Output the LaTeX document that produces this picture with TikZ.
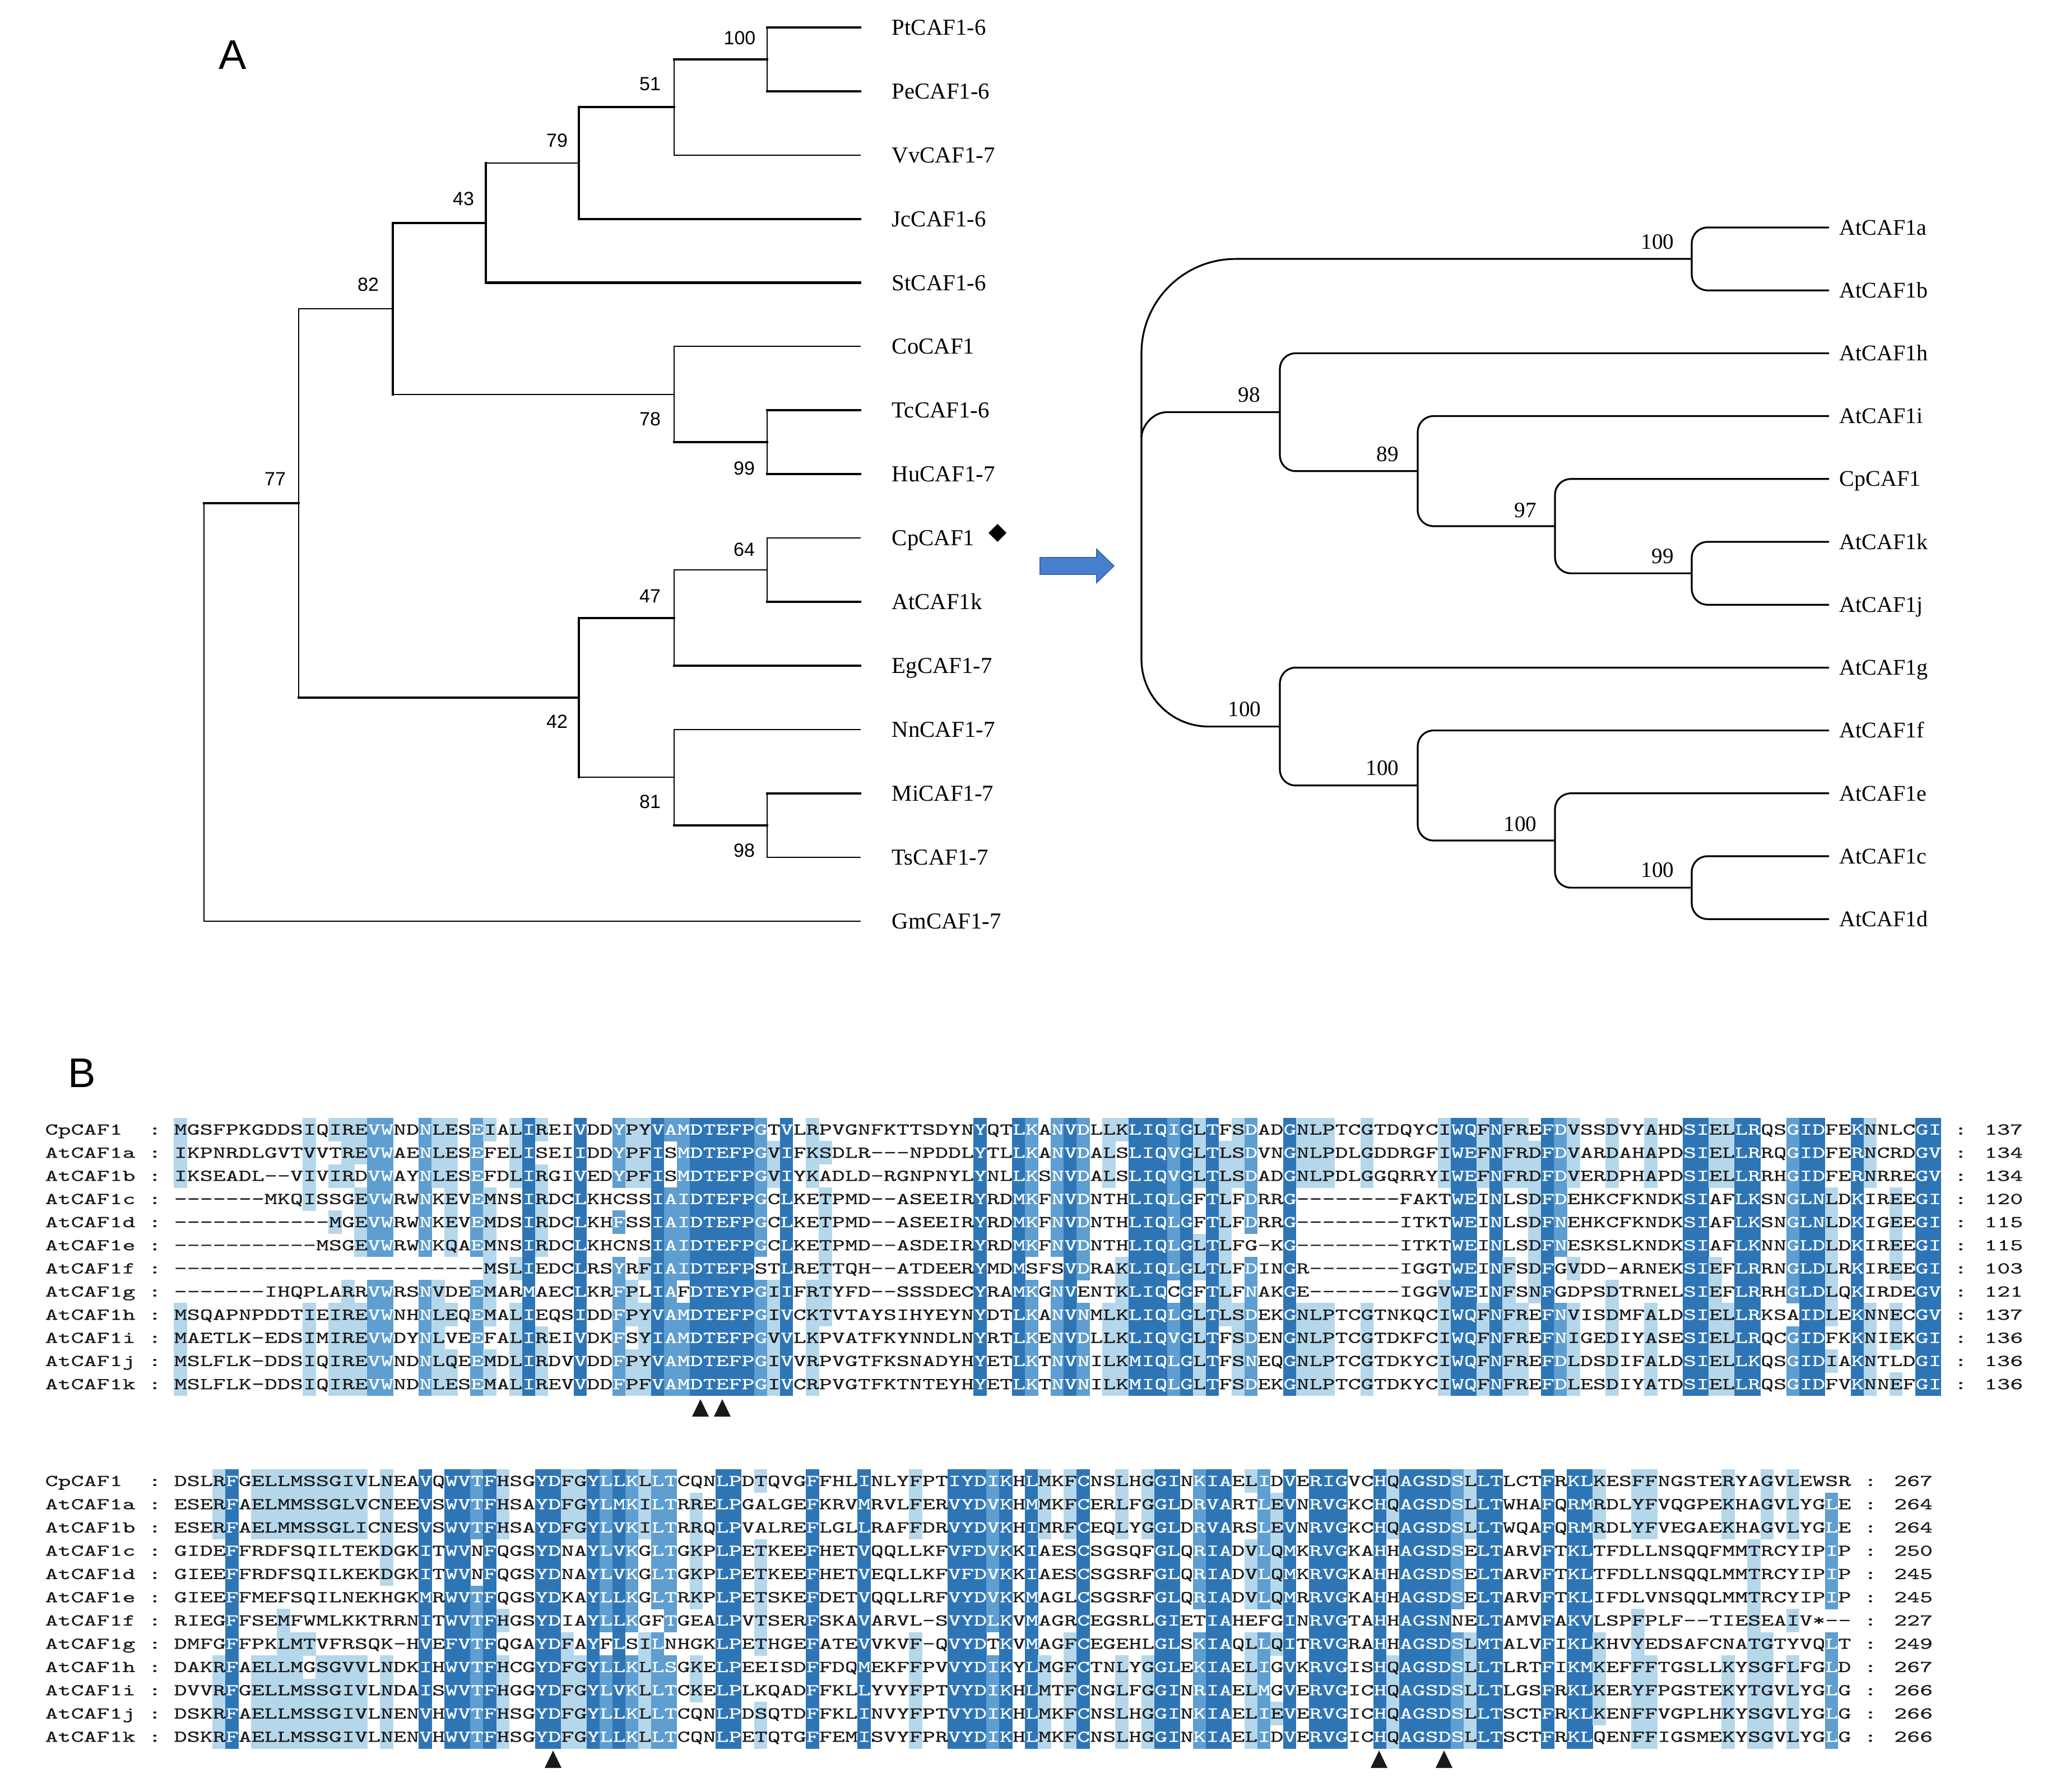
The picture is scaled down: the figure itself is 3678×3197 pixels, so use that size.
\documentclass[tikz,border=0pt]{standalone}
\usepackage{fontspec}
\setmainfont{Liberation Serif}
\newfontfamily\sansf{Liberation Sans}
\newfontfamily\seqfont[FakeStretch=1.48,FakeBold=0.6]{lmmono10-regular.otf}
\definecolor{alDark}{RGB}{46,117,182}
\definecolor{alMed}{RGB}{94,158,208}
\definecolor{alLight}{RGB}{181,215,235}
\definecolor{alText}{RGB}{25,25,25}
\definecolor{arrowblue}{RGB}{72,126,206}
\definecolor{arrowedge}{RGB}{55,100,170}
\newcommand\alfill[4]{\fill[alshade#1] (#2,#3) rectangle ++(23.5,#4);}
\newcommand\alrow[4]{\node[seqtxt, anchor=base west] (blk#1r#2) at (310,#3) {#4};}

\ExplSyntaxOn
\int_new:N \l_al_cnt_int
\int_new:N \l_al_lev_int
\tl_new:N \l_al_gi_tl
\tl_new:N \l_al_i_tl
\tl_new:N \l_al_j_tl
\int_step_inline:nn {12}
  {
    \str_new:c {l_al_r #1 _str}
    \tl_new:c {l_al_c #1 _tl}
    \tl_new:c {l_al_g #1 _tl}
    \tl_new:c {l_al_row #1 _tl}
  }
\cs_new:Npn \al_grp:n #1
  {
    \str_case:nnF {#1}
      {
        {I}{L} {L}{L} {V}{L} {M}{L}
        {F}{F} {Y}{F} {W}{F}
        {S}{S} {T}{S}
        {K}{K} {R}{K}
        {D}{D} {N}{D}
        {E}{E} {Q}{E}
        {-}{0} {*}{0}
      }
      {#1}
  }
\cs_new_protected:Npn \al_cell:nn #1#2
  {
    \hbox_to_wd:nn {5.755pt}
      {
        \hss
        \int_compare:nNnTF {#1} > {1}
          { \color{white} }
          { \color{alText} }
        #2
        \hss
      }
  }
\cs_new_protected:Npn \al_setrows:n #1
  {
    \int_zero:N \l_al_cnt_int
    \clist_map_inline:nn {#1}
      {
        \int_incr:N \l_al_cnt_int
        \str_set:cn {l_al_r \int_use:N \l_al_cnt_int _str} {##1}
      }
  }
\cs_new_protected:Npn \al_block:nnnn #1#2#3#4
  {
    \int_step_inline:nn {12} { \tl_clear:c {l_al_row ##1 _tl} }
    \int_step_variable:nnNn {1} {#2} \l_al_j_tl
      {
        \int_step_variable:nnNn {1} {12} \l_al_i_tl
          {
            \tl_set:cx {l_al_c \l_al_i_tl _tl}
              { \exp_args:Nv \str_item:nn {l_al_r \l_al_i_tl _str} {\l_al_j_tl} }
            \tl_set:cx {l_al_g \l_al_i_tl _tl}
              { \exp_args:Nv \al_grp:n {l_al_c \l_al_i_tl _tl} }
          }
        \int_step_variable:nnNn {1} {12} \l_al_i_tl
          {
            \tl_set_eq:Nc \l_al_gi_tl {l_al_g \l_al_i_tl _tl}
            \int_zero:N \l_al_cnt_int
            \str_if_eq:eeF { \l_al_gi_tl } {0}
              {
                \int_step_inline:nn {12}
                  {
                    \str_if_eq:eeT { \l_al_gi_tl } { \tl_use:c {l_al_g ##1 _tl} }
                      { \int_incr:N \l_al_cnt_int }
                  }
              }
            \int_set:Nn \l_al_lev_int
              {
                \int_compare:nNnTF \l_al_cnt_int > {11} {3}
                  {
                    \int_compare:nNnTF \l_al_cnt_int > {9} {2}
                      { \int_compare:nNnTF \l_al_cnt_int > {6} {1} {0} }
                  }
              }
            \int_compare:nNnT \l_al_lev_int > {0}
              {
                \use:x
                  {
                    \exp_not:N \alfill
                      { \int_use:N \l_al_lev_int }
                      { \fp_eval:n { 310 + ( \l_al_j_tl - 1 ) * 23.02 } }
                      { \fp_eval:n { #3 + ( \l_al_i_tl - 1 ) * #4 } }
                      { \fp_eval:n { #4 + 0.6 } }
                  }
              }
            \tl_put_right:cx {l_al_row \l_al_i_tl _tl}
              {
                \exp_not:N \al_cell:nn
                  { \int_use:N \l_al_lev_int }
                  { \tl_use:c {l_al_c \l_al_i_tl _tl} }
              }
          }
      }
    \int_step_variable:nnNn {1} {12} \l_al_i_tl
      {
        \use:x
          {
            \exp_not:N \alrow {#1} { \l_al_i_tl }
              { \fp_eval:n { #3 + ( \l_al_i_tl - 0.5 ) * #4 + 9.2 } }
              { \exp_not:v {l_al_row \l_al_i_tl _tl} }
          }
      }
  }
\cs_new_eq:NN \AlSetRows \al_setrows:n
\cs_new_eq:NN \AlBlock \al_block:nnnn
\ExplSyntaxOff

\begin{document}
\begin{tikzpicture}[x=0.25pt,y=-0.25pt,
  thk/.style={line width=1.05pt, line cap=rect},
  thn/.style={line width=0.5pt, line cap=rect},
  rline/.style={line width=0.8pt},
  leaflab/.style={anchor=base west, inner sep=0pt, font=\fontsize{10.2pt}{12pt}\selectfont},
  rleaflab/.style={anchor=base west, inner sep=0pt, font=\fontsize{10pt}{12pt}\selectfont},
  bsl/.style={inner sep=0pt, font=\sansf\fontsize{8.5pt}{10pt}\selectfont},
  bsr/.style={inner sep=0pt, font=\fontsize{9.8pt}{12pt}\selectfont},
  seqtxt/.style={inner sep=0pt, text=alText, font=\seqfont\fontsize{7.4pt}{9pt}\selectfont},
  panel/.style={inner sep=0pt, font=\sansf\fontsize{18.5pt}{20pt}\selectfont},
  alshade1/.style={fill=alLight},
  alshade2/.style={fill=alMed},
  alshade3/.style={fill=alDark}]
\fill[white] (0,0) rectangle (3678,3197);
\useasboundingbox (0,0) rectangle (3678,3197);

% ---------------- Panel A, left tree ----------------
\node[panel] (labA) at (415,98) {A};
\foreach \nm/\yy in {Pt/49, Pe/162.9, Vv/276.8, Jc/390.7, St/504.6, Co/618.5, Tc/732.4, Hu/846.3, Cp/960.2, Ak/1074.1, Eg/1188, Nn/1301.9, Mi/1415.8, Ts/1529.7, Gm/1643.6}
  {\coordinate (L\nm) at (1535,\yy);}
\coordinate (n100) at (1369,106);
\coordinate (n51) at (1203,191.4);
\coordinate (n79) at (1033,291);
\coordinate (n43) at (867,397.8);
\coordinate (n99) at (1369,789.4);
\coordinate (n78) at (1203,704);
\coordinate (n82) at (701,550.9);
\coordinate (n64) at (1369,1017.2);
\coordinate (n47) at (1203,1102.6);
\coordinate (n98) at (1369,1472.8);
\coordinate (n81) at (1203,1387.3);
\coordinate (n42) at (1033,1245);
\coordinate (n77) at (533,898);
\coordinate (nroot) at (364,898);

\draw[thn] (nroot) -- (nroot |- LGm) -- (LGm);
\draw[thk] (nroot) -- (n77);
\draw[thn] (n77 |- n82) -- (n77 |- n42);
\draw[thn] (n77 |- n82) -- (n82);
\draw[thk] (n77 |- n42) -- (n42);
\draw[thk] (n82 |- n43) -- (n82 |- n78);
\draw[thk] (n82 |- n43) -- (n43);
\draw[thn] (n82 |- n78) -- (n78);
\draw[thk] (n43 |- n79) -- (n43 |- LSt);
\draw[thn] (n43 |- n79) -- (n79);
\draw[thk] (n43 |- LSt) -- (LSt);
\draw[thk] (n79 |- n51) -- (n79 |- LJc);
\draw[thk] (n79 |- n51) -- (n51);
\draw[thk] (n79 |- LJc) -- (LJc);
\draw[thn] (n51 |- n100) -- (n51 |- LVv);
\draw[thk] (n51 |- n100) -- (n100);
\draw[thn] (n51 |- LVv) -- (LVv);
\draw[thn] (n100 |- LPt) -- (n100 |- LPe);
\draw[thk] (n100 |- LPt) -- (LPt);
\draw[thk] (n100 |- LPe) -- (LPe);
\draw[thn] (n78 |- LCo) -- (n78 |- n99);
\draw[thn] (n78 |- LCo) -- (LCo);
\draw[thk] (n78 |- n99) -- (n99);
\draw[thn] (n99 |- LTc) -- (n99 |- LHu);
\draw[thk] (n99 |- LTc) -- (LTc);
\draw[thk] (n99 |- LHu) -- (LHu);
\draw[thk] (n42 |- n47) -- (n42 |- n81);
\draw[thk] (n42 |- n47) -- (n47);
\draw[thn] (n42 |- n81) -- (n81);
\draw[thn] (n47 |- n64) -- (n47 |- LEg);
\draw[thn] (n47 |- n64) -- (n64);
\draw[thk] (n47 |- LEg) -- (LEg);
\draw[thn] (n64 |- LCp) -- (n64 |- LAk);
\draw[thn] (n64 |- LCp) -- (LCp);
\draw[thk] (n64 |- LAk) -- (LAk);
\draw[thn] (n81 |- LNn) -- (n81 |- n98);
\draw[thn] (n81 |- LNn) -- (LNn);
\draw[thk] (n81 |- n98) -- (n98);
\draw[thn] (n98 |- LMi) -- (n98 |- LTs);
\draw[thk] (n98 |- LMi) -- (LMi);
\draw[thn] (n98 |- LTs) -- (LTs);

\foreach \nm/\yy/\tx in {Pt/49/PtCAF1-6, Pe/162.9/PeCAF1-6, Vv/276.8/VvCAF1-7, Jc/390.7/JcCAF1-6, St/504.6/StCAF1-6, Co/618.5/CoCAF1, Tc/732.4/TcCAF1-6, Hu/846.3/HuCAF1-7, Cp/960.2/CpCAF1, Ak/1074.1/AtCAF1k, Eg/1188/EgCAF1-7, Nn/1301.9/NnCAF1-7, Mi/1415.8/MiCAF1-7, Ts/1529.7/TsCAF1-7, Gm/1643.6/GmCAF1-7}
  {\node[leaflab] (lab\nm) at (1591,\yy+13.5) {\tx};}
\fill (1780,935) -- (1796,951) -- (1780,967) -- (1764,951) -- cycle;

\foreach \xx/\yy/\tx [count=\k] in {1320/68/100, 1160/150/51, 994/251/79, 827/355/43, 657/508/82, 1160/748/78, 1328/836/99, 491/855/77, 1328/981/64, 1160/1064/47, 994/1288/42, 1160/1431/81, 1328/1518/98}
  {\node[bsl] (bsL\k) at (\xx,\yy) {\tx};}

% ---------------- arrow ----------------
\fill[arrowblue, draw=arrowedge, line width=0.4pt] (1856,995) -- (1957,995) -- (1957,980) -- (1988,1010) -- (1957,1040) -- (1957,1025) -- (1856,1025) -- cycle;

% ---------------- right tree ----------------
\foreach \nm/\yy in {a/406, b/518.2, h/630.4, i/742.6, Cp/854.8, k/967, j/1079.2, g/1191.4, f/1303.6, e/1415.8, c/1528, d/1640.2}
  {\coordinate (R\nm) at (3264,\yy);}
\coordinate (rab) at (3019,462.1);
\coordinate (r99) at (3019,1023.1);
\coordinate (r97) at (2775,939);
\coordinate (r89) at (2530,840.8);
\coordinate (r98) at (2284,735.6);
\coordinate (rcd) at (3019,1584.1);
\coordinate (re) at (2775,1500);
\coordinate (rf) at (2530,1401.8);
\coordinate (rg) at (2284,1296.6);
\coordinate (rroot) at (2037,900);
\coordinate (rmid) at (2037,781);

\draw[rline, rounded corners=7pt] (Ra) -- (rab |- Ra) -- (rab |- Rb) -- (Rb);
\draw[rline, rounded corners=7pt] (Rk) -- (r99 |- Rk) -- (r99 |- Rj) -- (Rj);
\draw[rline, rounded corners=7pt] (RCp) -- (r97 |- RCp) -- (r97 |- r99) -- (r99);
\draw[rline, rounded corners=7pt] (Ri) -- (r89 |- Ri) -- (r89 |- r97) -- (r97);
\draw[rline, rounded corners=7pt] (Rh) -- (r98 |- Rh) -- (r98 |- r89) -- (r89);
\draw[rline, rounded corners=7pt] (Rc) -- (rcd |- Rc) -- (rcd |- Rd) -- (Rd);
\draw[rline, rounded corners=7pt] (Re) -- (re |- Re) -- (re |- rcd) -- (rcd);
\draw[rline, rounded corners=7pt] (Rf) -- (rf |- Rf) -- (rf |- re) -- (re);
\draw[rline, rounded corners=7pt] (Rg) -- (rg |- Rg) -- (rg |- rf) -- (rf);
\draw[rline, rounded corners=42pt] (rab) -- (rroot |- rab) -- (rroot);
\draw[rline, rounded corners=30pt] (rroot) -- (rroot |- rg) -- (rg);
\draw[rline] (rmid) .. controls (2037,760.6) and (2057.4,735.6) .. (2082,735.6) -- (r98);

\foreach \nm/\tx in {a/AtCAF1a, b/AtCAF1b, h/AtCAF1h, i/AtCAF1i, Cp/CpCAF1, k/AtCAF1k, j/AtCAF1j, g/AtCAF1g, f/AtCAF1f, e/AtCAF1e, c/AtCAF1c, d/AtCAF1d}
  {\node[rleaflab] (rlab\nm) at ([xshift=4.5pt, yshift=-3.3pt]R\nm) {\tx};}

\foreach \xx/\yy/\tx [count=\k] in {2958/432/100, 2229/705/98, 2476/811/89, 2722/911/97, 2967/993/99, 2221/1266/100, 2467/1371/100, 2713/1471/100, 2958/1553/100}
  {\node[bsr] (bsR\k) at (\xx,\yy) {\tx};}

% ---------------- Panel B ----------------
\node[panel] (labB) at (146,1915) {B};

\AlSetRows{
MGSFPKGDDSIQIREVWNDNLESEIALIREIVDDYPYVAMDTEFPGTVLRPVGNFKTTSDYNYQTLKANVDLLKLIQIGLTFSDADGNLPTCGTDQYCIWQFNFREFDVSSDVYAHDSIELLRQSGIDFEKNNLCGI,
IKPNRDLGVTVVTREVWAENLESEFELISEIIDDYPFISMDTEFPGVIFKSDLR---NPDDLYTLLKANVDALSLIQVGLTLSDVNGNLPDLGDDRGFIWEFNFRDFDVARDAHAPDSIELLRRQGIDFERNCRDGV,
IKSEADL--VIVIRDVWAYNLESEFDLIRGIVEDYPFISMDTEFPGVIYKADLD-RGNPNYLYNLLKSNVDALSLIQVGLTLSDADGNLPDLGGQRRYIWEFNFRDFDVERDPHAPDSIELLRRHGIDFERNRREGV,
-------MKQISSGEVWRWNKEVEMNSIRDCLKHCSSIAIDTEFPGCLKETPMD--ASEEIRYRDMKFNVDNTHLIQLGFTLFDRRG--------FAKTWEINLSDFDEHKCFKNDKSIAFLKSNGLNLDKIREEGI,
------------MGEVWRWNKEVEMDSIRDCLKHFSSIAIDTEFPGCLKETPMD--ASEEIRYRDMKFNVDNTHLIQLGFTLFDRRG--------ITKTWEINLSDFNEHKCFKNDKSIAFLKSNGLNLDKIGEEGI,
-----------MSGEVWRWNKQAEMNSIRDCLKHCNSIAIDTEFPGCLKETPMD--ASDEIRYRDMKFNVDNTHLIQLGLTLFG-KG--------ITKTWEINLSDFNESKSLKNDKSIAFLKNNGLDLDKIREEGI,
------------------------MSLIEDCLRSYRFIAIDTEFPSTLRETTQH--ATDEERYMDMSFSVDRAKLIQLGLTLFDINGR-------IGGTWEINFSDFGVDD-ARNEKSIEFLRRNGLDLRKIREEGI,
-------IHQPLARRVWRSNVDEEMARMAECLKRFPLIAFDTEYPGIIFRTYFD--SSSDECYRAMKGNVENTKLIQCGFTLFNAKGE-------IGGVWEINFSNFGDPSDTRNELSIEFLRRHGLDLQKIRDEGV,
MSQAPNPDDTIEIREVWNHNLEQEMALIEQSIDDFPYVAMDTEFPGIVCKTVTAYSIHYEYNYDTLKANVNMLKLIQLGLTLSDEKGNLPTCGTNKQCIWQFNFREFNVISDMFALDSIELLRKSAIDLEKNNECGV,
MAETLK-EDSIMIREVWDYNLVEEFALIREIVDKFSYIAMDTEFPGVVLKPVATFKYNNDLNYRTLKENVDLLKLIQVGLTFSDENGNLPTCGTDKFCIWQFNFREFNIGEDIYASESIELLRQCGIDFKKNIEKGI,
MSLFLK-DDSIQIREVWNDNLQEEMDLIRDVVDDFPYVAMDTEFPGIVVRPVGTFKSNADYHYETLKTNVNILKMIQLGLTFSNEQGNLPTCGTDKYCIWQFNFREFDLDSDIFALDSIELLKQSGIDIAKNTLDGI,
MSLFLK-DDSIQIREVWNDNLESEMALIREVVDDFPFVAMDTEFPGIVCRPVGTFKTNTEYHYETLKTNVNILKMIQLGLTFSDEKGNLPTCGTDKYCIWQFNFREFDLESDIYATDSIELLRQSGIDFVKNNEFGI}
\AlBlock{1}{137}{1995}{41.3}

\AlSetRows{
DSLRFGELLMSSGIVLNEAVQWVTFHSGYDFGYLLKLLTCQNLPDTQVGFFHLINLYFPTIYDIKHLMKFCNSLHGGINKIAELIDVERIGVCHQAGSDSLLTLCTFRKLKESFFNGSTERYAGVLEWSR,
ESERFAELMMSSGLVCNEEVSWVTFHSAYDFGYLMKILTRRELPGALGEFKRVMRVLFERVYDVKHMMKFCERLFGGLDRVARTLEVNRVGKCHQAGSDSLLTWHAFQRMRDLYFVQGPEKHAGVLYGLE,
ESERFAELMMSSGLICNESVSWVTFHSAYDFGYLVKILTRRQLPVALREFLGLLRAFFDRVYDVKHIMRFCEQLYGGLDRVARSLEVNRVGKCHQAGSDSLLTWQAFQRMRDLYFVEGAEKHAGVLYGLE,
GIDEFFRDFSQILTEKDGKITWVNFQGSYDNAYLVKGLTGKPLPETKEEFHETVQQLLKFVFDVKKIAESCSGSQFGLQRIADVLQMKRVGKAHHAGSDSELTARVFTKLTFDLLNSQQFMMTRCYIPIP,
GIEEFFRDFSQILKEKDGKITWVNFQGSYDNAYLVKGLTGKPLPETKEEFHETVEQLLKFVFDVKKIAESCSGSRFGLQRIADVLQMKRVGKAHHAGSDSELTARVFTKLTFDLLNSQQLMMTRCYIPIP,
GIEEFFMEFSQILNEKHGKMRWVTFQGSYDKAYLLKGLTRKPLPETSKEFDETVQQLLRFVYDVKKMAGLCSGSRFGLQRIADVLQMRRVGKAHHAGSDSELTARVFTKLIFDLVNSQQLMMTRCYIPIP,
RIEGFFSEMFWMLKKTRRNITWVTFHGSYDIAYLLKGFTGEALPVTSERFSKAVARVL-SVYDLKVMAGRCEGSRLGIETIAHEFGINRVGTAHHAGSNNELTAMVFAKVLSPFPLF--TIESEAIV*--,
DMFGFFPKLMTVFRSQK-HVEFVTFQGAYDFAYFLSILNHGKLPETHGEFATEVVKVF-QVYDTKVMAGFCEGEHLGLSKIAQLLQITRVGRAHHAGSDSLMTALVFIKLKHVYEDSAFCNATGTYVQLT,
DAKRFAELLMGSGVVLNDKIHWVTFHCGYDFGYLLKLLSGKELPEEISDFFDQMEKFFPVVYDIKYLMGFCTNLYGGLEKIAELIGVKRVGISHQAGSDSLLTLRTFIKMKEFFFTGSLLKYSGFLFGLD,
DVVRFGELLMSSGIVLNDAISWVTFHGGYDFGYLVKLLTCKELPLKQADFFKLLYVYFPTVYDIKHLMTFCNGLFGGINRIAELMGVERVGICHQAGSDSLLTLGSFRKLKERYFPGSTEKYTGVLYGLG,
DSKRFAELLMSSGIVLNENVHWVTFHSGYDFGYLLKLLTCQNLPDSQTDFFKLINVYFPTVYDIKHLMKFCNSLHGGINKIAELIEVERVGICHQAGSDSLLTSCTFRKLKENFFVGPLHKYSGVLYGLG,
DSKRFAELLMSSGIVLNENVHWVTFHSGYDFGYLLKLLTCQNLPETQTGFFEMISVYFPRVYDIKHLMKFCNSLHGGINKIAELIDVERVGICHQAGSDSLLTSCTFRKLQENFFIGSMEKYSGVLYGLG}
\AlBlock{2}{130}{2622}{41.5}

\foreach \nm/\na/\nb [count=\i] in {CpCAF1/137/267, AtCAF1a/134/264, AtCAF1b/134/264, AtCAF1c/120/250, AtCAF1d/115/245, AtCAF1e/115/245, AtCAF1f/103/227, AtCAF1g/121/249, AtCAF1h/137/267, AtCAF1i/136/266, AtCAF1j/136/266, AtCAF1k/136/266}
  {
  \node[seqtxt, anchor=base west] (nmA\i) at (79.8,{1995+(\i-0.5)*41.3+9.2}) {\nm};
  \node[seqtxt, anchor=base west] (clA\i) at (264,{1995+(\i-0.5)*41.3+9.2}) {:};
  \node[seqtxt, anchor=base west] (enA\i) at (3486.7,{1995+(\i-0.5)*41.3+9.2}) {: \na};
  \node[seqtxt, anchor=base west] (nmB\i) at (79.8,{2622+(\i-0.5)*41.5+9.2}) {\nm};
  \node[seqtxt, anchor=base west] (clB\i) at (264,{2622+(\i-0.5)*41.5+9.2}) {:};
  \node[seqtxt, anchor=base west] (enB\i) at (3325.6,{2622+(\i-0.5)*41.5+9.2}) {: \nb};
  }

% catalytic-site triangles
\foreach \xx [count=\k] in {1250,1289}
  {\fill[black!90] (\xx-15,2528) -- (\xx+15,2528) -- (\xx,2497) -- cycle;}
\foreach \xx [count=\k] in {987,2461,2577}
  {\fill[black!90] (\xx-15,3155) -- (\xx+15,3155) -- (\xx,3124) -- cycle;}
\end{tikzpicture}
\end{document}
